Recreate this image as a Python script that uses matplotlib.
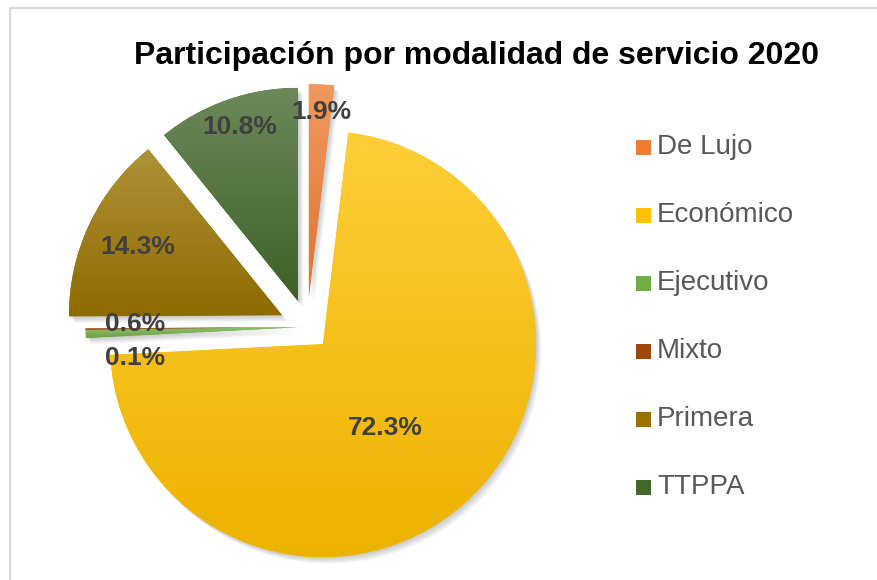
import numpy as np
import matplotlib.pyplot as plt
from matplotlib.patches import Wedge, Rectangle
from matplotlib.colors import to_rgb

plt.rcParams['font.family'] = ['Liberation Sans', 'DejaVu Sans']

# data
categories = ['De Lujo', 'Económico', 'Ejecutivo', 'Mixto', 'Primera', 'TTPPA']
shares = [1.9, 72.3, 0.6, 0.1, 14.3, 10.8]
colors = ['#ED7D31', '#FFC000', '#70AD47', '#9E480E', '#997300', '#43682B']
explode_frac = [0.14, 0.11, 0.04, 0.04, 0.13, 0.13]
title = 'Participación por modalidad de servicio 2020'

# layout in pixel units (y measured from the top)
W, H = 878, 580
cx, cy, R = 307, 327, 213
label_px = [(321, 112), (385, 428), (135, 324), (135, 358), (138, 247), (240, 127)]

fig = plt.figure(figsize=(W / 100, H / 100), dpi=100)
ax = fig.add_axes([0, 0, 1, 1])

# pie takes explode in data units, so scale the fractions by the radius
wedges, _ = ax.pie(shares, colors=colors, explode=[e * R for e in explode_frac],
                   startangle=90, counterclock=False, radius=R,
                   center=(cx, H - cy), normalize=True)
for w in wedges:
    w.set_zorder(3)


def shade(c, f):
    c = np.array(to_rgb(c))
    return c * f


def tint(c, f):
    c = np.array(to_rgb(c))
    return c + (1 - c) * f


# soft shadow and gradient fills
for w, col in zip(wedges, colors):
    for k in range(1, 7):
        s = Wedge((w.center[0] + k * 0.9, w.center[1] - k * 1.1), w.r, w.theta1, w.theta2,
                  facecolor='black', edgecolor='none', alpha=0.035, zorder=2)
        ax.add_patch(s)
    ext = w.get_path().get_extents()
    top = tint(col, 0.22)
    bot = shade(col, 0.93)
    t = np.linspace(0, 1, 256)[:, None]
    grad = bot[None, :] * (1 - t) + top[None, :] * t
    grad = grad[:, None, :]
    im = ax.imshow(grad, extent=[ext.x0, ext.x1, ext.y0, ext.y1], origin='lower',
                   aspect='auto', interpolation='bilinear', zorder=4)
    im.set_clip_path(w)

# data labels
for v, (px, py) in zip(shares, label_px):
    ax.text(px, H - py, f'{v:.1f}%', ha='center', va='center', fontsize=19,
            fontweight='bold', color='#404040', zorder=6)

ax.text(477, H - 56, title, ha='center', va='center', fontsize=23,
        fontweight='bold', color='black')

# legend
for i, (name, col) in enumerate(zip(categories, colors)):
    yy = H - (147 + i * 68)
    ax.add_patch(Rectangle((636, yy - 7.5), 15, 15, facecolor=col, edgecolor='none'))
    ax.text(657, yy, name, ha='left', va='center', fontsize=20, color='#595959')

# chart border
ax.plot([10, 10, W + 5], [-5, H - 8, H - 8], color='#D9D9D9', lw=1.5, clip_on=False)

ax.set_xlim(0, W)
ax.set_ylim(0, H)
ax.set_aspect('auto')
ax.axis('off')

fig.savefig('out.png', dpi=100)
